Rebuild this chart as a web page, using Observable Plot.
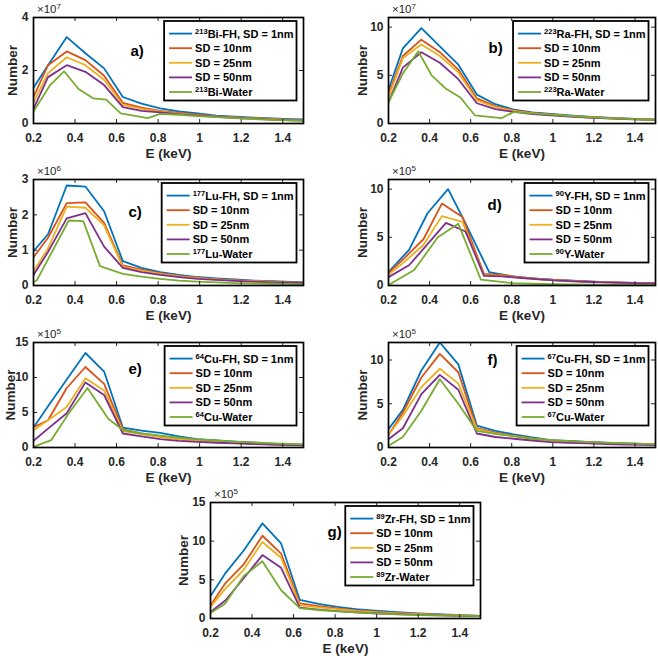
<!DOCTYPE html>
<html><head><meta charset="utf-8">
<script src="https://cdn.jsdelivr.net/npm/d3@7"></script>
<script src="https://cdn.jsdelivr.net/npm/@observablehq/plot@0.6"></script>
<style>
body{margin:0;background:#fff;}
#fig{position:relative;width:658px;height:656px;overflow:hidden;background:#fff;}
</style></head><body><div id="fig"></div>
<script>
// ---------- shared ----------
const SERIES = ["SD = 1nm", "SD = 10nm", "SD = 25nm", "SD = 50nm", "Water"];
const COLORS = ["#0072BD", "#D95319", "#EDB120", "#7E2F8E", "#77AC30"];
const X_TICKS = [0.2, 0.4, 0.6, 0.8, 1, 1.2, 1.4];
const E_GRID = [0.2, 0.27, 0.36, 0.45, 0.54, 0.63, 0.72, 0.81, 0.9, 0.99, 1.08, 1.17, 1.26, 1.35, 1.44, 1.5];

// ---------- a) 213Bi (x1e7) ----------
const bi_1nm  = [1.35, 2.2, 3.26, 2.65, 2.08, 1.0, 0.75, 0.57, 0.46, 0.38, 0.3, 0.26, 0.22, 0.19, 0.16, 0.15];
const bi_10nm = [1.0, 2.2, 2.72, 2.39, 1.8, 0.78, 0.6, 0.48, 0.4, 0.33, 0.27, 0.23, 0.2, 0.17, 0.14, 0.13];
const bi_25nm = [0.8, 1.9, 2.5, 2.2, 1.65, 0.7, 0.55, 0.45, 0.37, 0.31, 0.26, 0.22, 0.19, 0.16, 0.13, 0.12];
const bi_50nm = [0.55, 1.75, 2.2, 1.95, 1.45, 0.62, 0.48, 0.42, 0.35, 0.3, 0.25, 0.21, 0.18, 0.15, 0.12, 0.11];
const bi_water_E = [0.2, 0.28, 0.347, 0.417, 0.487, 0.55, 0.62, 0.75, 0.81, 0.9, 0.99, 1.08, 1.17, 1.26, 1.35, 1.44, 1.5];
const bi_water   = [0.45, 1.45, 1.97, 1.3, 0.95, 0.9, 0.38, 0.2, 0.36, 0.33, 0.28, 0.24, 0.2, 0.17, 0.14, 0.12, 0.1];

// ---------- b) 223Ra (x1e7) ----------
const ra_1nm  = [3.5, 7.8, 9.9, 8.0, 6.1, 3.0, 2.0, 1.45, 1.15, 1.0, 0.85, 0.72, 0.62, 0.53, 0.46, 0.43];
const ra_10nm = [3.0, 7.0, 8.7, 7.4, 5.6, 2.6, 1.8, 1.35, 1.1, 0.95, 0.8, 0.68, 0.58, 0.5, 0.43, 0.4];
const ra_25nm = [2.7, 6.8, 8.2, 7.0, 5.3, 2.4, 1.7, 1.3, 1.05, 0.9, 0.77, 0.65, 0.56, 0.48, 0.42, 0.39];
const ra_50nm = [2.2, 5.8, 7.4, 6.3, 4.6, 2.1, 1.5, 1.2, 0.98, 0.85, 0.72, 0.62, 0.53, 0.46, 0.4, 0.37];
const ra_water_E = [0.2, 0.27, 0.345, 0.41, 0.48, 0.55, 0.62, 0.75, 0.81, 0.9, 0.99, 1.08, 1.17, 1.26, 1.35, 1.44, 1.5];
const ra_water   = [2.2, 5.2, 7.5, 5.0, 3.6, 2.7, 0.85, 0.55, 1.2, 1.05, 0.92, 0.78, 0.66, 0.56, 0.48, 0.41, 0.38];

// ---------- c) 177Lu (x1e6) ----------
const lu_1nm  = [0.97, 1.45, 2.83, 2.8, 2.1, 0.69, 0.5, 0.38, 0.3, 0.24, 0.2, 0.17, 0.14, 0.12, 0.1, 0.09];
const lu_10nm = [0.8, 1.35, 2.33, 2.35, 1.77, 0.57, 0.45, 0.35, 0.27, 0.22, 0.18, 0.15, 0.13, 0.11, 0.09, 0.08];
const lu_25nm = [0.4, 1.05, 2.23, 2.2, 1.7, 0.53, 0.42, 0.33, 0.26, 0.21, 0.17, 0.14, 0.12, 0.1, 0.08, 0.07];
const lu_50nm = [0.3, 0.95, 1.9, 2.05, 1.1, 0.5, 0.38, 0.3, 0.24, 0.19, 0.16, 0.13, 0.11, 0.09, 0.08, 0.07];
const lu_water_E = [0.2, 0.215, 0.37, 0.44, 0.52, 0.63, 0.72, 0.81, 0.9, 0.99, 1.08, 1.17, 1.26, 1.35, 1.44, 1.5];
const lu_water   = [0.1, 0.14, 1.84, 1.82, 0.55, 0.33, 0.25, 0.19, 0.14, 0.11, 0.09, 0.07, 0.06, 0.05, 0.04, 0.04];

// ---------- d) 90Y (x1e5) ----------
const y_1nm_E = [0.2, 0.3, 0.39, 0.49, 0.56, 0.69, 0.8, 0.9, 1.0, 1.1, 1.2, 1.3, 1.4, 1.5];
const y_1nm   = [1.4, 3.7, 7.5, 10.0, 7.1, 1.4, 0.95, 0.75, 0.6, 0.5, 0.4, 0.32, 0.26, 0.22];
const y_10nm_E = [0.2, 0.28, 0.37, 0.46, 0.56, 0.665, 0.75, 0.85, 0.95, 1.05, 1.15, 1.25, 1.35, 1.45, 1.5];
const y_10nm   = [1.3, 2.9, 4.8, 8.5, 7.1, 1.2, 1.1, 0.85, 0.65, 0.52, 0.42, 0.35, 0.29, 0.25, 0.23];
const y_25nm   = [1.1, 2.5, 4.2, 7.2, 6.6, 1.05, 1.0, 0.8, 0.62, 0.5, 0.4, 0.33, 0.28, 0.24, 0.22];
const y_50nm_E = [0.2, 0.3, 0.37, 0.48, 0.575, 0.665, 0.75, 0.85, 0.95, 1.05, 1.15, 1.25, 1.35, 1.45, 1.5];
const y_50nm   = [0.87, 2.1, 3.8, 6.5, 5.6, 1.0, 0.95, 0.78, 0.6, 0.48, 0.39, 0.32, 0.27, 0.23, 0.21];
const y_water_E = [0.2, 0.325, 0.44, 0.54, 0.65, 0.8, 0.9, 1.0, 1.1, 1.2, 1.3, 1.4, 1.5];
const y_water   = [0.05, 1.6, 5.0, 6.4, 0.6, 0.25, 0.18, 0.14, 0.11, 0.09, 0.07, 0.06, 0.05];

// ---------- e) 64Cu (x1e5) ----------
const cu64_1nm  = [2.85, 5.9, 9.7, 13.5, 10.85, 2.85, 2.4, 2.1, 1.6, 1.2, 1.0, 0.85, 0.7, 0.55, 0.45, 0.4];
const cu64_10nm = [2.9, 3.9, 8.5, 11.5, 9.1, 2.6, 2.0, 1.6, 1.25, 0.95, 0.8, 0.7, 0.55, 0.45, 0.38, 0.35];
const cu64_25nm = [2.45, 3.9, 5.8, 9.9, 8.15, 2.35, 1.9, 1.5, 1.2, 0.95, 0.8, 0.68, 0.55, 0.45, 0.38, 0.35];
const cu64_50nm = [0.95, 2.7, 4.9, 9.3, 7.5, 2.0, 1.6, 1.2, 0.95, 0.8, 0.68, 0.58, 0.48, 0.4, 0.35, 0.3];
const cu64_water_E = [0.2, 0.285, 0.37, 0.46, 0.56, 0.63, 0.72, 0.81, 0.9, 0.99, 1.08, 1.17, 1.26, 1.35, 1.44, 1.5];
const cu64_water   = [0.1, 1.05, 4.9, 8.5, 4.1, 2.5, 2.0, 1.7, 1.4, 1.15, 1.0, 0.85, 0.72, 0.6, 0.5, 0.45];

// ---------- f) 67Cu (x1e5) ----------
const cu67_1nm  = [2.1, 4.3, 8.8, 12.0, 9.5, 2.5, 1.9, 1.5, 1.15, 0.85, 0.75, 0.65, 0.55, 0.48, 0.42, 0.4];
const cu67_10nm = [1.45, 4.0, 8.0, 10.7, 8.6, 2.2, 1.7, 1.35, 1.05, 0.8, 0.7, 0.6, 0.52, 0.45, 0.4, 0.38];
const cu67_25nm = [1.45, 3.6, 6.9, 9.0, 7.3, 2.1, 1.6, 1.3, 1.0, 0.78, 0.68, 0.58, 0.5, 0.43, 0.38, 0.36];
const cu67_50nm = [0.95, 2.2, 6.1, 8.3, 6.6, 1.6, 1.2, 1.0, 0.8, 0.62, 0.54, 0.47, 0.4, 0.34, 0.3, 0.28];
const cu67_water = [0.2, 1.2, 4.2, 7.8, 5.0, 1.9, 1.55, 1.3, 1.0, 0.85, 0.72, 0.62, 0.53, 0.46, 0.41, 0.39];

// ---------- g) 89Zr (x1e5) ----------
const zr_1nm  = [2.9, 5.8, 8.8, 12.3, 9.7, 2.4, 1.9, 1.5, 1.2, 1.0, 0.85, 0.7, 0.6, 0.5, 0.4, 0.35];
const zr_10nm = [1.7, 4.5, 7.0, 10.7, 8.4, 1.95, 1.6, 1.3, 1.05, 0.87, 0.73, 0.62, 0.52, 0.44, 0.37, 0.33];
const zr_25nm = [1.5, 3.8, 6.3, 9.9, 7.85, 1.7, 1.45, 1.2, 0.98, 0.82, 0.7, 0.6, 0.5, 0.42, 0.36, 0.32];
const zr_50nm = [0.85, 2.3, 5.2, 8.2, 6.55, 1.4, 1.15, 0.95, 0.8, 0.68, 0.58, 0.5, 0.43, 0.37, 0.32, 0.3];
const zr_water = [0.7, 1.9, 5.5, 7.4, 3.65, 1.35, 1.1, 0.92, 0.78, 0.66, 0.56, 0.48, 0.42, 0.37, 0.33, 0.3];

const PANELS = [
  {iso: "213", el: "Bi", letter: "a)", exp: "7", yMax: 4, yTicks: [0, 2, 4], rect: [33, 17, 303, 123], lx: 97, ly: 34, ylab: -21,
   series: [[E_GRID, bi_1nm], [E_GRID, bi_10nm], [E_GRID, bi_25nm], [E_GRID, bi_50nm], [bi_water_E, bi_water]]},
  {iso: "223", el: "Ra", letter: "b)", exp: "7", yMax: 11, yTicks: [0, 5, 10], rect: [388, 17, 655, 123], lx: 100, ly: 31, ylab: -26,
   series: [[E_GRID, ra_1nm], [E_GRID, ra_10nm], [E_GRID, ra_25nm], [E_GRID, ra_50nm], [ra_water_E, ra_water]]},
  {iso: "177", el: "Lu", letter: "c)", exp: "6", yMax: 3, yTicks: [0, 1, 2, 3], rect: [33, 179, 303, 285], lx: 95, ly: 33, ylab: -21,
   series: [[E_GRID, lu_1nm], [E_GRID, lu_10nm], [E_GRID, lu_25nm], [E_GRID, lu_50nm], [lu_water_E, lu_water]]},
  {iso: "90", el: "Y", letter: "d)", exp: "5", yMax: 11, yTicks: [0, 5, 10], rect: [388, 179, 655, 285], lx: 99, ly: 26, ylab: -26,
   series: [[y_1nm_E, y_1nm], [y_10nm_E, y_10nm], [y_10nm_E, y_25nm], [y_50nm_E, y_50nm], [y_water_E, y_water]]},
  {iso: "64", el: "Cu", letter: "e)", exp: "5", yMax: 15, yTicks: [0, 5, 10, 15], rect: [33, 342, 303, 447], lx: 95, ly: 27, ylab: -23,
   series: [[E_GRID, cu64_1nm], [E_GRID, cu64_10nm], [E_GRID, cu64_25nm], [E_GRID, cu64_50nm], [cu64_water_E, cu64_water]]},
  {iso: "67", el: "Cu", letter: "f)", exp: "5", yMax: 12, yTicks: [0, 5, 10], rect: [388, 342, 655, 447], lx: 99, ly: 18, ylab: -26,
   series: [[E_GRID, cu67_1nm], [E_GRID, cu67_10nm], [E_GRID, cu67_25nm], [E_GRID, cu67_50nm], [E_GRID, cu67_water]]},
  {iso: "89", el: "Zr", letter: "g)", exp: "5", yMax: 15, yTicks: [0, 5, 10, 15], rect: [210, 502, 480, 618], lx: 117, ly: 30, ylab: -27,
   series: [[E_GRID, zr_1nm], [E_GRID, zr_10nm], [E_GRID, zr_25nm], [E_GRID, zr_50nm], [E_GRID, zr_water]]}
];

const FONT = "'Liberation Sans', Arial, Helvetica, sans-serif";
const INK = "#262626";
const fig = document.getElementById("fig");

function makePanel(p) {
  const mL = 40, mT = 20, mR = 3, mB = 42;
  const [x0, y0, x1, y1] = p.rect;
  const iw = x1 - x0, ih = y1 - y0;
  const W = iw + mL + mR, H = ih + mT + mB;
  const rows = [];
  p.series.forEach(([E, N], i) => E.forEach((e, j) => rows.push({E: e, N: N[j], s: SERIES[i]})));
  const svg = Plot.plot({
    width: W, height: H, marginLeft: mL, marginTop: mT, marginRight: mR, marginBottom: mB,
    style: {background: "none", fontFamily: FONT, fontWeight: "bold", fontSize: "12px", color: INK, overflow: "visible"},
    x: {domain: [0.2, 1.5]},
    y: {domain: [0, p.yMax]},
    color: {domain: SERIES, range: COLORS},
    marks: [
      Plot.line(rows, {x: "E", y: "N", stroke: "s", z: "s", strokeWidth: 1.8, clip: true}),
      Plot.ruleX(X_TICKS, {insetTop: ih - 4, stroke: INK}),
      Plot.ruleX(X_TICKS, {insetBottom: ih - 4, stroke: INK}),
      Plot.ruleY(p.yTicks, {insetRight: iw - 4, stroke: INK}),
      Plot.ruleY(p.yTicks, {insetLeft: iw - 4, stroke: INK}),
      Plot.axisX(X_TICKS, {tickSize: 0, tickPadding: 10, label: null, tickFormat: d => String(d)}),
      Plot.axisY(p.yTicks, {tickSize: 0, tickPadding: 5, label: null, tickFormat: d => String(d)}),
      Plot.frame({stroke: "#000", strokeWidth: 1.7}),
      Plot.text(["E (keV)"], {frameAnchor: "bottom", dy: 30, lineAnchor: "middle", textAnchor: "middle", fontSize: 13.5, fill: INK}),
      Plot.text(["Number"], {frameAnchor: "left", rotate: -90, dx: p.ylab, lineAnchor: "middle", textAnchor: "middle", fontSize: 13.5, fill: INK}),
      Plot.text([p.letter], {frameAnchor: "top-left", dx: p.lx, dy: p.ly, lineAnchor: "middle", textAnchor: "start", fontSize: 15, fill: "#000"})
    ]
  });
  svg.style.position = "absolute";
  svg.style.left = (x0 - mL) + "px";
  svg.style.top = (y0 - mT) + "px";
  svg.style.maxWidth = "none";
  fig.appendChild(svg);

  const sel = d3.select(svg);
  // exponent label
  const ex = sel.append("text").attr("x", mL + 4).attr("y", mT - 4.5).attr("text-anchor", "start")
    .attr("font-family", FONT).attr("font-weight", "normal").attr("font-size", 11.5).attr("fill", INK);
  ex.append("tspan").text("\u00d710");
  ex.append("tspan").attr("dy", -4).attr("font-size", 8).text(p.exp);

  // legend
  const g = sel.append("g").attr("font-family", FONT).attr("font-weight", "bold").attr("font-size", 11)
    .attr("text-anchor", "start");
  const labels = [[p.iso, p.el + "-FH, SD = 1nm"], [null, "SD = 10nm"], [null, "SD = 25nm"], [null, "SD = 50nm"], [p.iso, p.el + "-Water"]];
  const boxTop = mT + 4, rowH = 14.6, first = 12.6;
  const rect = g.append("rect");
  let maxLen = 0;
  const texts = labels.map(([sup, rest], i) => {
    const cy = boxTop + first + i * rowH;
    const t = g.append("text").attr("y", cy + 4).attr("fill", "#000");
    if (sup) {
      t.append("tspan").attr("font-size", 7.5).attr("dy", -4).text(sup);
      t.append("tspan").attr("dy", 4).text(rest);
    } else {
      t.append("tspan").text(rest);
    }
    maxLen = Math.max(maxLen, t.node().getComputedTextLength());
    return [t, cy];
  });
  const boxW = maxLen + 34;
  const boxRight = mL + iw - 6.5;
  const boxLeft = boxRight - boxW;
  const boxH = first + 4 * rowH + 8.5;
  rect.attr("x", boxLeft).attr("y", boxTop).attr("width", boxW).attr("height", boxH)
    .attr("fill", "#fff").attr("stroke", "#000").attr("stroke-width", 1.8);
  texts.forEach(([t, cy], i) => {
    t.attr("x", boxLeft + 31);
    g.append("line").attr("x1", boxLeft + 5).attr("x2", boxLeft + 28).attr("y1", cy).attr("y2", cy)
      .attr("stroke", COLORS[i]).attr("stroke-width", 1.8);
  });
}

PANELS.forEach(makePanel);
</script></body></html>
